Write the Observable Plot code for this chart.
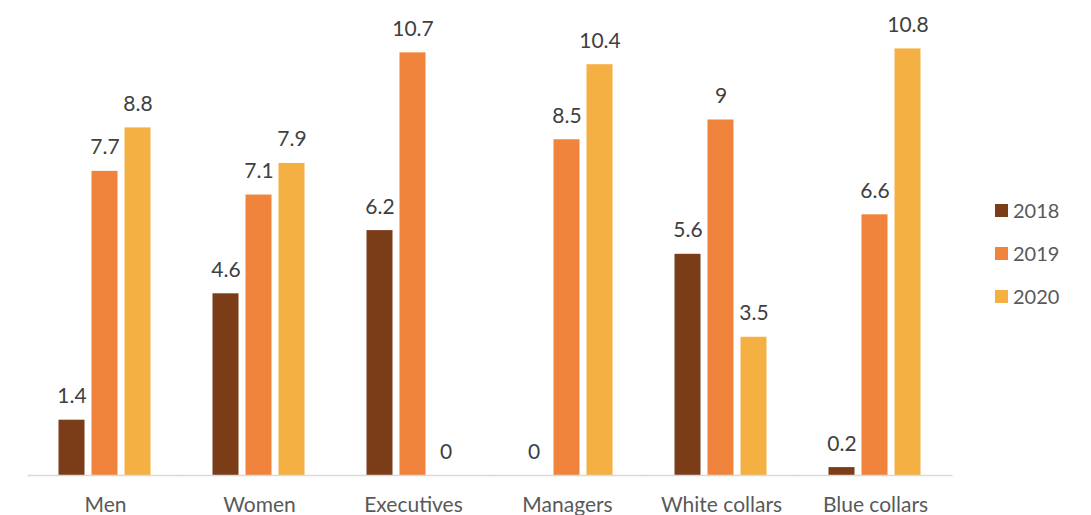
<!DOCTYPE html>
<html>
<head>
<meta charset="utf-8">
<script src="https://cdn.jsdelivr.net/npm/d3@7"></script>
<script src="https://cdn.jsdelivr.net/npm/@observablehq/plot@0.6"></script>
<style>
  html, body { margin: 0; padding: 0; background: #fff; }
  #wrap { position: relative; width: 1091px; height: 515px; font-family: Lato, "Open Sans", sans-serif; }
  #legend { position: absolute; left: 995px; top: 196px; }
  .row { display: flex; align-items: center; height: 28px; margin-bottom: 15px; font-size: 20px; color: #595959; }
  .sw { width: 13px; height: 13px; margin-right: 5px; }
</style>
</head>
<body>
<div id="wrap"></div>
<script>
const categories = ["Men", "Women", "Executives", "Managers", "White collars", "Blue collars"];
const years = ["2018", "2019", "2020"];
const values2018 = [1.4, 4.6, 6.2, 0, 5.6, 0.2];
const values2019 = [7.7, 7.1, 10.7, 8.5, 9, 6.6];
const values2020 = [8.8, 7.9, 0, 10.4, 3.5, 10.8];
const colors = ["#7B3C18", "#F0843C", "#F5B043"];

const series = [values2018, values2019, values2020];
const data = [];
categories.forEach((c, i) => {
  years.forEach((y, j) => data.push({category: c, year: y, value: series[j][i]}));
});

const chart = Plot.plot({
  width: 1091,
  height: 515,
  marginLeft: 25.5,
  marginRight: 136.5,
  marginTop: 1,
  marginBottom: 40,
  style: {fontFamily: "Lato, 'Open Sans', sans-serif", fontSize: "21px", color: "#595959", background: "#fff"},
  facet: {data, x: "category"},
  fx: {domain: categories, paddingInner: 0.39, paddingOuter: 0.2, label: null, tickSize: 0, tickPadding: 22},
  x: {domain: years, paddingInner: 0.2, paddingOuter: 0, axis: null},
  y: {domain: [0, 12], axis: null},
  color: {domain: years, range: colors},
  marks: [
    Plot.barY(data, {x: "year", y: "value", fill: "year"}),
    Plot.ruleY([0], {stroke: "#d9d9d9", strokeWidth: 1.5, insetLeft: -30.5, insetRight: -30.5}),
    Plot.text(data, {x: "year", y: "value", text: d => String(d.value), lineAnchor: "bottom", dy: -17, fill: "#404040", fontSize: 21})
  ]
});
document.getElementById("wrap").appendChild(chart);

const legend = document.createElement("div");
legend.id = "legend";
years.forEach((y, j) => {
  const row = document.createElement("div");
  row.className = "row";
  const sw = document.createElement("div");
  sw.className = "sw";
  sw.style.background = colors[j];
  const t = document.createElement("span");
  t.textContent = y;
  row.appendChild(sw);
  row.appendChild(t);
  legend.appendChild(row);
});
document.getElementById("wrap").appendChild(legend);
</script>
</body>
</html>
